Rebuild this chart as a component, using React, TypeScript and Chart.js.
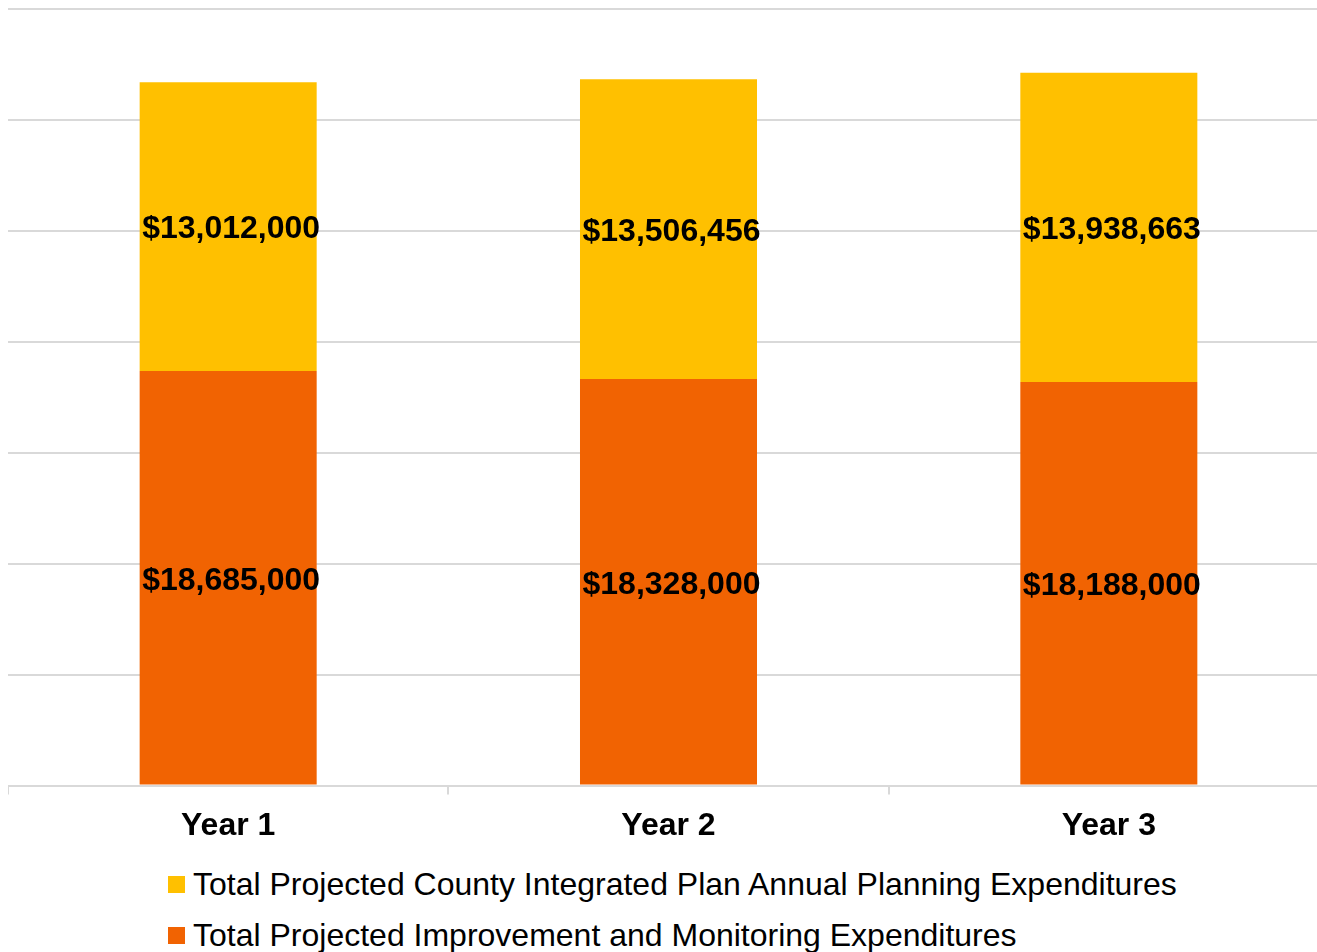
import React, { useEffect, useRef } from "react";
import { Chart, registerables } from "chart.js";

Chart.register(...registerables);

const categories = ["Year 1", "Year 2", "Year 3"];
const improvementValues = [18685000, 18328000, 18188000];
const planningValues = [13012000, 13506456, 13938663];
const seriesNames = [
  "Total Projected Improvement and Monitoring Expenditures",
  "Total Projected County Integrated Plan Annual Planning Expenditures",
];
const seriesColors = ["#F16302", "#FFC000"];
const yMax = 35000000;
const yStep = 5000000;

const FONT = "'Liberation Sans', Arial, Helvetica, sans-serif";

const fmt = (v: number) => "$" + v.toLocaleString("en-US");

const dataLabelPlugin = {
  id: "segmentLabels",
  afterDatasetsDraw(chart: any) {
    const ctx = chart.ctx;
    ctx.save();
    ctx.font = `bold 32px ${FONT}`;
    ctx.fillStyle = "#000000";
    ctx.textAlign = "center";
    ctx.textBaseline = "middle";
    chart.data.datasets.forEach((ds: any, di: number) => {
      const meta = chart.getDatasetMeta(di);
      meta.data.forEach((el: any, i: number) => {
        const { x, y, base } = el.getProps(["x", "y", "base"], true);
        ctx.fillText(fmt(ds.data[i]), x + 3, (y + base) / 2 + 3);
      });
    });
    ctx.restore();
  },
};

function ChartCanvas() {
  const ref = useRef<HTMLCanvasElement | null>(null);
  useEffect(() => {
    if (!ref.current) return;
    const chart = new Chart(ref.current, {
      type: "bar",
      data: {
        labels: categories,
        datasets: [
          {
            label: seriesNames[0],
            data: improvementValues,
            backgroundColor: seriesColors[0],
            borderWidth: 0,
          },
          {
            label: seriesNames[1],
            data: planningValues,
            backgroundColor: seriesColors[1],
            borderWidth: 0,
          },
        ],
      },
      options: {
        animation: false,
        responsive: false,
        maintainAspectRatio: false,
        layout: { padding: { top: 1, left: 0, right: 0, bottom: 0 } },
        plugins: {
          legend: { display: false },
          tooltip: { enabled: false },
        },
        datasets: {
          bar: { categoryPercentage: 1, barPercentage: 0.402 },
        },
        scales: {
          x: {
            stacked: true,
            grid: {
              display: true,
              drawOnChartArea: false,
              drawTicks: true,
              tickLength: 9,
              color: "#d9d9d9",
              lineWidth: 2,
              offset: true,
            },
            border: { display: true, color: "#d9d9d9", width: 2 },
            ticks: {
              color: "#000000",
              padding: 12,
              font: { family: FONT, size: 32, weight: "bold" },
            },
          },
          y: {
            stacked: true,
            min: 0,
            max: yMax,
            ticks: { display: false, stepSize: yStep },
            grid: { color: "#d9d9d9", lineWidth: 2, drawTicks: false },
            border: { display: false },
          },
        },
      },
      plugins: [dataLabelPlugin],
    } as any);
    return () => chart.destroy();
  }, []);
  return (
    <canvas
      ref={ref}
      width={1321}
      height={849}
      style={{ display: "block", width: 1321, height: 849 }}
    />
  );
}

function LegendRow({ color, text }: { color: string; text: string }) {
  return (
    <div style={{ display: "flex", alignItems: "center", height: 51 }}>
      <div style={{ width: 17, height: 17, background: color, marginRight: 8 }} />
      <span style={{ fontFamily: FONT, fontSize: 32, color: "#000", whiteSpace: "nowrap" }}>{text}</span>
    </div>
  );
}

export default function App() {
  return (
    <div
      style={{
        position: "fixed",
        top: 0,
        left: 0,
        width: 1317,
        height: 952,
        overflow: "hidden",
        background: "#ffffff",
      }}
    >
      <div style={{ position: "absolute", top: 8, left: 8, width: 1309, overflow: "hidden" }}>
        <ChartCanvas />
        <div style={{ paddingLeft: 160, marginTop: 2 }}>
          <LegendRow color={seriesColors[1]} text={seriesNames[1]} />
          <LegendRow color={seriesColors[0]} text={seriesNames[0]} />
        </div>
      </div>
    </div>
  );
}
